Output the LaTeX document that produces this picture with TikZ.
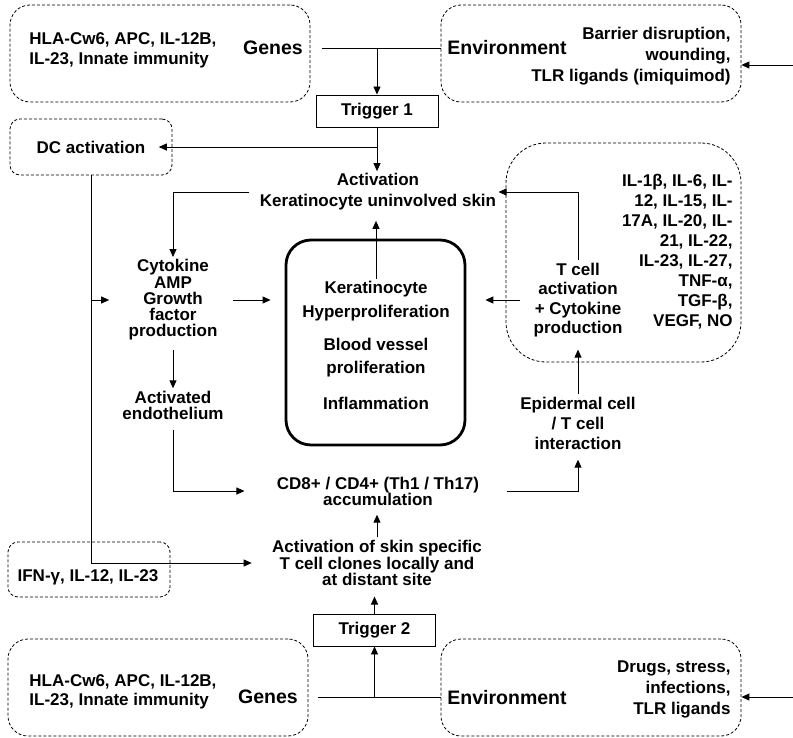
\documentclass[tikz,border=0pt]{standalone}
\usepackage{fontspec}
\setmainfont{Liberation Sans}
\usetikzlibrary{arrows.meta}

\tikzset{
  txt/.style={font=\fontsize{17bp}{#1}\selectfont\bfseries, align=center, inner sep=2bp},
  txt/.default=20bp,
  big/.style={font=\fontsize{19.5bp}{22bp}\selectfont\bfseries, inner sep=2bp},
  dbox/.style={draw, line width=0.8bp, dash pattern=on 3bp off 2bp, rounded corners=#1},
  trig/.style={draw, line width=0.9bp, minimum width=122bp, minimum height=32bp, inner sep=0pt,
    font=\fontsize{17bp}{20bp}\selectfont\bfseries},
  core/.style={draw, line width=2.8bp, rounded corners=25bp, minimum width=179bp, minimum height=205bp},
  arr/.style={-{Triangle[length=8bp,width=7bp]}}
}

\begin{document}
\begin{tikzpicture}[x=1bp,y=-1bp,line width=0.9bp]
\useasboundingbox (0,0) rectangle (793,738);
% trigger 1
\node[dbox=20bp, minimum width=300bp, minimum height=97bp] (g1box) at (160,53.5) {};
\node[txt, align=left, anchor=west] (g1txt) at (27,50) {HLA-Cw6, APC, IL-12B,\\IL-23, Innate immunity};
\node[big] (g1) at (273,48) {Genes};
\node[dbox=20bp, minimum width=300bp, minimum height=97bp] (e1box) at (591,53.5) {};
\node[big] (e1) at (507,48) {Environment};
\node[txt=21bp, align=right, anchor=east] (e1txt) at (733,56) {Barrier disruption,\\wounding,\\TLR ligands (imiquimod)};
\node[trig] (t1) at (377,111) {Trigger 1};
\coordinate (in1) at (793,65);
\draw ([xshift=12bp]g1box.east |- g1) -- (e1box.west |- g1);
\draw[arr] (t1 |- g1) -- (t1.north);
\draw[arr] (in1) -- (e1box.east |- in1);

% middle
\node[dbox=10bp, minimum width=162bp, minimum height=56bp] (dcbox) at (91,147) {};
\node[txt, inner xsep=13bp] (dc) at (91,147) {DC activation};
\node[txt=21bp] (act) at (378,192) {Activation\\Keratinocyte uninvolved skin};
\node[txt=16.3bp] (cyt) at (173,300) {Cytokine\\AMP\\Growth\\factor\\production};
\node[txt=16bp] (ext) at (173,405) {Activated\\endothelium};
\node[core] (core) at (375.5,342.5) {};
\node[txt=24bp] (kh) at (376,301) {Keratinocyte\\Hyperproliferation};
\node[txt=23bp] (bv) at (376,358) {Blood vessel\\proliferation};
\node[txt] (inf) at (376,403) {Inflammation};
\node[txt=16bp] (acc) at (378,491) {CD8+ / CD4+ (Th1 / Th17)\\accumulation};
\node[txt] (epi) at (578,423) {Epidermal cell\\/ T cell\\interaction};
\node[txt=19.5bp] (tca) at (578,300) {T cell\\activation\\+ Cytokine\\production};
\node[dbox=40bp, minimum width=235bp, minimum height=219bp] (cybox) at (623.5,252.5) {};
\node[txt, align=right, anchor=east] (cyl) at (735,252) {IL-1β, IL-6, IL-\\12, IL-15, IL-\\17A, IL-20, IL-\\21, IL-22,\\IL-23, IL-27,\\TNF-α,\\TGF-β,\\VEGF, NO};

\draw[arr] (t1.south) -- (t1.south |- act.north);
\draw[arr] (t1.south |- dc) -- (dc.east);
\draw[arr] ([xshift=-8bp]act.west) -| (cyt.north);
\draw[arr, shorten >=8bp] (kh.north) -- (kh.north |- act.south);
\draw[arr, shorten <=13bp, shorten >=14bp] (cyt.east) -- (cyt.east -| core.west);
\draw[arr, shorten <=7bp] (cyt.south) -- (ext.north);
\draw[arr, shorten <=8bp, shorten >=30bp] (ext.south) |- (acc.west);
\draw[arr, shorten <=25bp, shorten >=8bp] (acc.east) -| (epi.south);
\draw[arr, shorten >=10bp] (epi.north) -- (tca.south);
\draw[arr, shorten <=11bp, shorten >=19bp] (tca.west) -- (tca.west -| core.east);
\draw[arr] (tca.north) |- (act.east);

% trigger 2
\node[txt=15.5bp] (skn) at (377,563) {Activation of skin specific\\T cell clones locally and\\at distant site};
\node[dbox=10bp, minimum width=162bp, minimum height=55bp] (ifbox) at (89,569.5) {};
\node[txt] (ifn) at (88,577) {IFN-γ, IL-12, IL-23};
\node[trig] (t2) at (374.5,630) {Trigger 2};
\node[dbox=20bp, minimum width=300bp, minimum height=97bp] (g2box) at (158,687.5) {};
\node[txt=19bp, align=left, anchor=west] (g2txt) at (27,692) {HLA-Cw6, APC, IL-12B,\\IL-23, Innate immunity};
\node[big] (g2) at (268,697) {Genes};
\node[dbox=20bp, minimum width=300bp, minimum height=97bp] (e2box) at (591,687.5) {};
\node[big] (e2) at (507,698) {Environment};
\node[txt=21bp, align=right, anchor=east] (e2txt) at (733,689) {Drugs, stress,\\infections,\\TLR ligands};
\coordinate (in2) at (793,697);

\draw[arr, shorten >=7bp] (skn.north) -- (skn.north |- acc.south);
\draw[arr, shorten >=18bp] (dcbox.south) |- (skn.west);
\draw[arr, shorten >=17bp] (dcbox.south |- cyt) -- (cyt.west);
\draw[arr, shorten >=8bp] (t2.north) -- (t2.north |- skn.south);
\draw ([xshift=10bp]g2box.east |- g2) -- (e2box.west |- g2);
\draw[arr] (t2.south |- g2) -- (t2.south);
\draw[arr] (in2) -- (e2box.east |- in2);
\end{tikzpicture}
\end{document}
